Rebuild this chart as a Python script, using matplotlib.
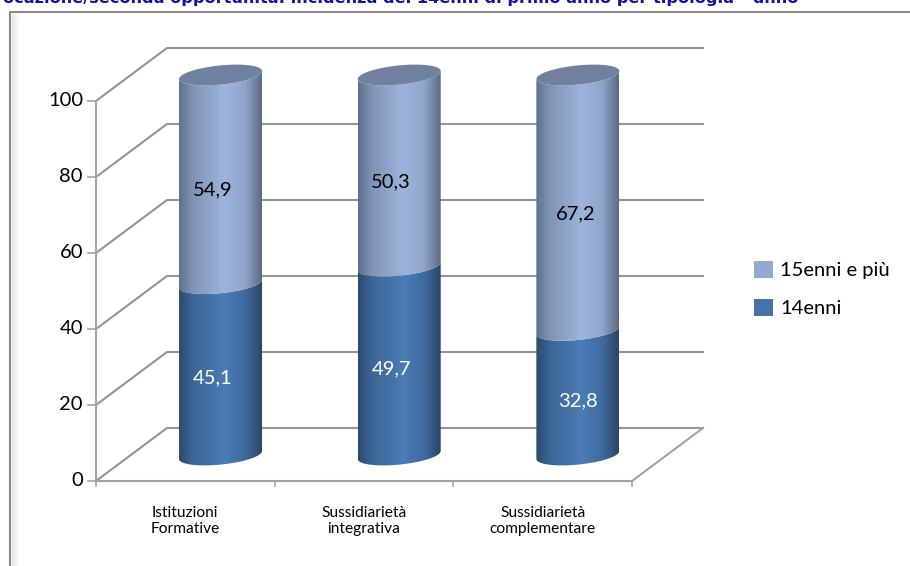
# -*- coding: utf-8 -*-

import numpy as np
import matplotlib
matplotlib.use('Agg')
import matplotlib.pyplot as plt
from matplotlib.colors import LinearSegmentedColormap
from matplotlib.patches import Patch, Polygon, Rectangle


categories = ['Istituzioni\nFormative', 'Sussidiarietà\nintegrativa', 'Sussidiarietà\ncomplementare']
values_14 = [45.1, 49.7, 32.8]
values_15 = [54.9, 50.3, 67.2]
label_14 = '14enni'
label_15 = '15enni e più'
y_ticks = [0, 20, 40, 60, 80, 100]
title_text = 'ocazione/seconda opportunità: incidenza dei 14enni di primo anno per tipologia – anno'

W, H = 910, 566
PX_X = 178.67  # pixels for one category
PX_Y = 3.8  # pixels for one percent
X0, Y0 = 96, 481  # pixel of the origin

DEPTH_X = 71 / PX_X
DEPTH_Y = 53 / PX_Y
BAR_DX = 35.2 / PX_X
BAR_DY = 26 / PX_Y
BAR_HALF = 41.5 / PX_X
ELL_B = 9.6 / PX_Y
ELL_S = 4.0 / PX_Y

GRID = '#8f8f8f'
AXIS = '#a3a3a3'
FONT = 'Lato'

light_cmap = LinearSegmentedColormap.from_list('light', [
    (0.0, '#5d6f8c'), (0.16, '#7f93b4'), (0.55, '#9db5dd'), (0.8, '#8fa5cb'), (1.0, '#5b6a84'),
])
dark_cmap = LinearSegmentedColormap.from_list('dark', [
    (0.0, '#2b4a70'), (0.16, '#3c6595'), (0.55, '#4a7cb6'), (0.8, '#3f6b9e'), (1.0, '#2a4568'),
])


def rim(cx, cy, start, stop):
    t = np.linspace(start, stop, 60)
    return cx + BAR_HALF * np.cos(t), cy + ELL_B * np.sin(t) + ELL_S * np.cos(t)


def draw_segment(ax, cx, low, high, cmap):
    # side of the cylinder: front rim of the base, back along the front rim of the top
    xb, yb = rim(cx, low, np.pi, 2 * np.pi)
    xt, yt = rim(cx, high, 2 * np.pi, np.pi)
    outline = Polygon(np.column_stack([np.r_[xb, xt], np.r_[yb, yt]]), closed=True,
                      facecolor='none', edgecolor='none', transform=ax.transData)
    ax.add_patch(outline)
    gradient = np.linspace(0, 1, 256).reshape(1, -1)
    image = ax.imshow(gradient, cmap=cmap, aspect='auto', zorder=3, interpolation='bilinear',
                      extent=(cx - BAR_HALF, cx + BAR_HALF, low - 3 * ELL_B, high + 3 * ELL_B))
    image.set_clip_path(outline)


def main():

    fig = plt.figure(figsize=(W / 100, H / 100), dpi=100)
    ax = fig.add_axes([0, 0, 1, 1])
    ax.set_xlim(-X0 / PX_X, (W - X0) / PX_X)
    ax.set_ylim((Y0 - H) / PX_Y, Y0 / PX_Y)
    ax.axis('off')

    px_x = lambda p: (p - X0) / PX_X
    px_y = lambda p: (Y0 - p) / PX_Y

    # outer frame with its soft shadow
    for i in range(7):
        shade = str(0.90 + i * 0.015)
        ax.plot([px_x(12 + i)] * 2, [px_y(14), px_y(H)], color=shade, lw=1, zorder=1)
    ax.plot([px_x(10), px_x(10), px_x(W)], [px_y(H), px_y(12), px_y(12)], color='#8a8a8a', lw=1.5, zorder=2)

    fig.text(3 / W, 1 - 3.5 / H, title_text, color='#1414a0', fontsize=11.6, fontweight='bold',
             family='DejaVu Sans', ha='left', va='baseline')

    # walls
    for tick in y_ticks:
        ax.plot([0, DEPTH_X, 3 + DEPTH_X], [tick, tick + DEPTH_Y, tick + DEPTH_Y],
                color=GRID, lw=1.5, zorder=2, solid_joinstyle='miter', alpha=0.95)
        ax.plot([-8 / PX_X, 0], [tick, tick], color=AXIS, lw=1.2, zorder=2)
        ax.text(-13 / PX_X, tick, str(tick), ha='right', va='center', fontsize=14.5, family=FONT, color='black')
    ax.plot([0, 0], [0, 100], color=AXIS, lw=1.5, zorder=2)
    ax.plot([0, 3], [0, 0], color=AXIS, lw=1.5, zorder=2)
    ax.plot([3, 3 + DEPTH_X], [0, DEPTH_Y], color=AXIS, lw=1.5, zorder=2)

    for i, name in enumerate(categories):
        ax.plot([i, i], [0, -5 / PX_Y], color=AXIS, lw=1.2, zorder=2)
        ax.text(i + 0.5, px_y(521), name, ha='center', va='center', fontsize=11.2, family=FONT,
                color='black', linespacing=1.25)
    ax.plot([3, 3], [0, -5 / PX_Y], color=AXIS, lw=1.2, zorder=2)

    # cylinders
    for i, (low_val, high_val) in enumerate(zip(values_14, values_15)):
        cx = i + 0.5 + BAR_DX
        total = low_val + high_val
        draw_segment(ax, cx, BAR_DY, BAR_DY + low_val, dark_cmap)
        draw_segment(ax, cx, BAR_DY + low_val, BAR_DY + total, light_cmap)
        # the darker blue has to stay on top of the light side along the seam
        xs, ys = rim(cx, BAR_DY + total, 0, 2 * np.pi)
        ax.add_patch(Polygon(np.column_stack([xs, ys]), closed=True, facecolor='#70809f',
                             edgecolor='none', zorder=4))

        ax.text(cx - 8 / PX_X if i < 2 else cx, BAR_DY + low_val / 2 - 8.5 / PX_Y, f'{low_val:.1f}'.replace('.', ','),
                ha='center', va='center', fontsize=14.5, family=FONT, color='white', zorder=5)
        ax.text(cx - 8 / PX_X if i < 2 else cx - 2 / PX_X, BAR_DY + low_val + high_val / 2 - 11 / PX_Y,
                f'{high_val:.1f}'.replace('.', ','),
                ha='center', va='center', fontsize=14.5, family=FONT, color='black', zorder=5)

    handles = [Patch(facecolor='#94a9d2', label=label_15), Patch(facecolor='#4572a7', label=label_14)]
    ax.legend(handles=handles, loc='center left', frameon=False, prop={'family': FONT, 'size': 14.5},
              bbox_to_anchor=(px_x(754), px_y(289)), bbox_transform=ax.transData,
              handlelength=0.95, handleheight=0.95, handletextpad=0.35, labelspacing=0.95,
              borderpad=0, borderaxespad=0)

    fig.savefig('out.png', dpi=100)


if __name__ == '__main__':
    main()
